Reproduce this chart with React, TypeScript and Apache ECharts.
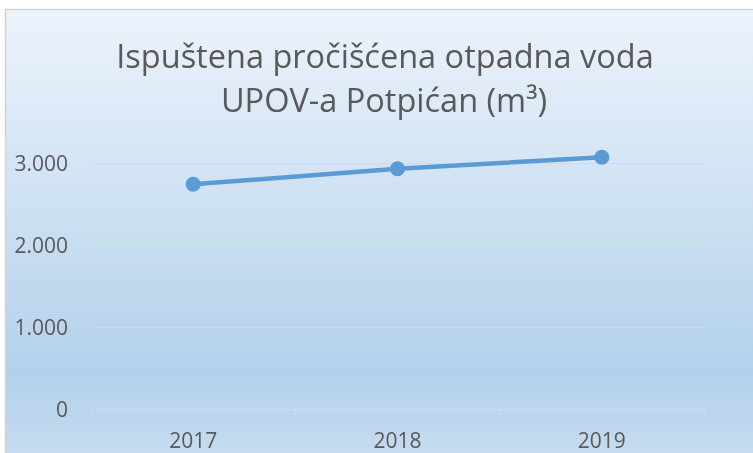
import React, { useEffect, useRef } from "react";
import * as echarts from "echarts";

const categories = ["2017", "2018", "2019"];
const values = [2740, 2930, 3070];
const titleLines = ["Ispuštena pročišćena otpadna voda", "UPOV-a Potpićan (m³)"];
const yMin = 0;
const yMax = 3000;
const yInterval = 1000;

const fmt = (v: number) => String(Math.round(v)).replace(/\B(?=(\d{3})+(?!\d))/g, ".");

export default function App() {
  const ref = useRef<HTMLDivElement>(null);
  useEffect(() => {
    if (!ref.current) return;
    const chart = echarts.init(ref.current, undefined, { renderer: "svg" });
    const font = "'Open Sans', sans-serif";
    chart.setOption({
      animation: false,
      graphic: [
        {
          type: "rect",
          z: -100,
          shape: { x: 5.5, y: 9.5, width: 800, height: 460 },
          style: {
            stroke: "#d4d4d4",
            lineWidth: 1.5,
            fill: new echarts.graphic.LinearGradient(0, 0, 0, 1, [
              { offset: 0, color: "#edf3fb" },
              { offset: 0.79, color: "#b3d1eb" },
              { offset: 1, color: "#c9ddf0" },
            ]),
          },
        },
        {
          type: "text",
          x: 385,
          y: 55,
          style: {
            text: titleLines[0],
            fontFamily: font,
            fontSize: 32.5,
            fill: "#595959",
            textAlign: "center",
            textVerticalAlign: "middle",
          },
        },
        {
          type: "text",
          x: 384,
          y: 99.5,
          style: {
            text: titleLines[1],
            fontFamily: font,
            fontSize: 32.5,
            fill: "#595959",
            textAlign: "center",
            textVerticalAlign: "middle",
          },
        },
      ],
      grid: { left: 91, right: 49, top: 163, bottom: 44, containLabel: false },
      xAxis: {
        type: "category",
        data: categories,
        boundaryGap: true,
        axisLine: { show: true, lineStyle: { color: "#d9d9d9", width: 1 } },
        axisTick: { show: true, length: 6, alignWithLabel: false, lineStyle: { color: "#d9d9d9" } },
        axisLabel: { color: "#595959", fontSize: 21, fontFamily: font, margin: 20 },
        splitLine: { show: false },
      },
      yAxis: {
        type: "value",
        min: yMin,
        max: yMax,
        interval: yInterval,
        axisLine: { show: false },
        axisTick: { show: false },
        axisLabel: { color: "#595959", fontSize: 21, fontFamily: font, margin: 23, formatter: fmt },
        splitLine: { show: true, lineStyle: { color: "#d9d9d9", width: 1 } },
      },
      series: [
        {
          type: "line",
          data: values,
          symbol: "circle",
          symbolSize: 15,
          clip: false,
          lineStyle: { color: "#5b9bd5", width: 4.5 },
          itemStyle: { color: "#5b9bd5" },
          z: 5,
        },
      ],
    });
    return () => chart.dispose();
  }, []);
  return (
    <div
      ref={ref}
      style={{ position: "fixed", left: 0, top: 0, width: 753, height: 453 }}
    />
  );
}
